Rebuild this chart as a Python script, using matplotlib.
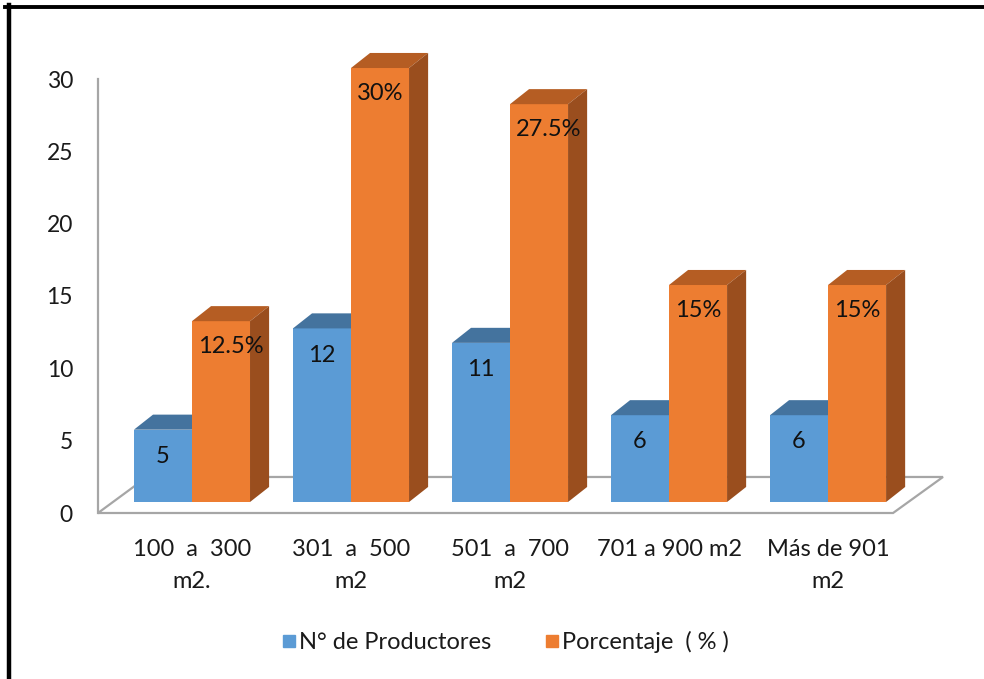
import matplotlib.pyplot as plt
from matplotlib.patches import Polygon
from matplotlib.lines import Line2D

plt.rcParams['font.family'] = ['Lato', 'DejaVu Sans']

# data
categories = ["100  a  300\nm2.", "301  a  500\nm2", "501  a  700\nm2",
              "701 a 900 m2", "Más de 901\nm2"]
productores = [5, 12, 11, 6, 6]
porcentaje = [12.5, 30, 27.5, 15, 15]
pct_labels = ["12.5%", "30%", "27.5%", "15%", "15%"]
series_names = ["N° de Productores", "Porcentaje  ( % )"]

# colours (front, top, side)
BLUE = ("#5B9BD5", "#44739E", "#3A6591")
ORANGE = ("#ED7D31", "#B55D23", "#9A4E1E")

# pseudo-3D geometry in data units
W = 0.365        # bar width
BASE = 0.76      # bar base above floor front edge
DX, DY = 0.12, 1.04   # depth offset of bars
FLOOR_DY = 2.49
FLOOR_FRONT = (-0.591, 4.409)
FLOOR_BACK = (-0.283, 4.723)
FS = 17

fig = plt.figure(figsize=(9.84, 6.79), dpi=100)
ax = fig.add_axes([98 / 984, 1 - 513 / 679, (943 - 98) / 984, (513 - 79) / 679])
ax.set_xlim(-0.591, 4.723)
ax.set_ylim(0, 30)

for s in ["top", "right", "bottom"]:
    ax.spines[s].set_visible(False)
ax.spines["left"].set_color("#A6A6A6")
ax.spines["left"].set_linewidth(1.6)

ax.set_yticks(range(0, 31, 5))
ax.tick_params(axis="y", length=0, pad=18, labelsize=16.5, labelcolor="#1a1a1a")
ax.set_xticks(range(len(categories)))
ax.set_xticklabels(categories, fontsize=FS, linespacing=1.6, color="#1a1a1a")
ax.tick_params(axis="x", length=0, pad=19)

# floor
floor = Polygon([(FLOOR_FRONT[0], 0), (FLOOR_FRONT[1], 0),
                 (FLOOR_BACK[1], FLOOR_DY), (FLOOR_BACK[0], FLOOR_DY)],
                closed=True, facecolor="white", edgecolor="#A6A6A6",
                linewidth=1.6, clip_on=False, zorder=1)
ax.add_patch(floor)


def draw_bar(x0, val, colors, side=True):
    front, top, side_c = colors
    ax.bar(x0 + W / 2, val, width=W, bottom=BASE, color=front,
           linewidth=0, zorder=3, clip_on=False)
    y1 = BASE + val
    ax.add_patch(Polygon([(x0, y1), (x0 + W, y1), (x0 + W + DX, y1 + DY),
                          (x0 + DX, y1 + DY)], closed=True, facecolor=top,
                         linewidth=0, zorder=3, clip_on=False))
    if side:
        ax.add_patch(Polygon([(x0 + W, BASE), (x0 + W + DX, BASE + DY),
                              (x0 + W + DX, y1 + DY), (x0 + W, y1)],
                             closed=True, facecolor=side_c, linewidth=0,
                             zorder=3, clip_on=False))


for i in range(len(categories)):
    draw_bar(i - W, productores[i], BLUE, side=False)
    draw_bar(i, porcentaje[i], ORANGE)
    ax.text(i - W / 2, BASE + productores[i] - 1.85, str(productores[i]),
            ha="center", va="center", fontsize=FS, color="#111111", zorder=5)
    ax.text(i + 0.035, BASE + porcentaje[i] - 1.75, pct_labels[i],
            ha="left", va="center", fontsize=FS, color="#111111", zorder=5)

handles = [Line2D([], [], marker="s", ls="", color=BLUE[0], markersize=8),
           Line2D([], [], marker="s", ls="", color=ORANGE[0], markersize=8)]
fig.legend(handles, series_names, loc="center",
           bbox_to_anchor=(506 / 984, 1 - 642 / 679), ncol=2, frameon=False,
           fontsize=FS, handlelength=0.5, handletextpad=0.2,
           columnspacing=2.3, labelcolor="#1a1a1a")

# black frame on top and left
fig.add_artist(Line2D([5 / 984, 1], [1 - 6.5 / 679, 1 - 6.5 / 679],
                      color="black", linewidth=2.8))
fig.add_artist(Line2D([9 / 984, 9 / 984], [0, 1 - 5 / 679],
                      color="black", linewidth=3.2))

fig.savefig("out.png", dpi=100)
